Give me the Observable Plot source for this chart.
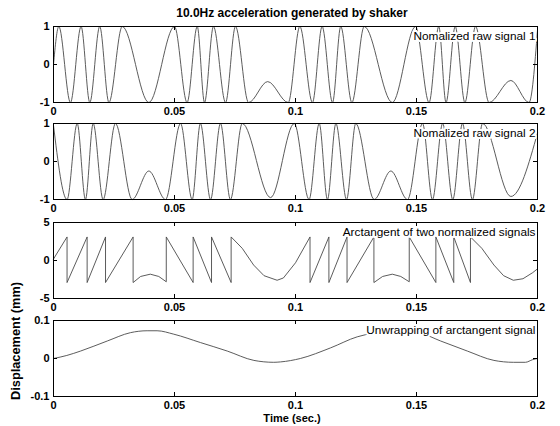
<!DOCTYPE html>
<html>
<head>
<meta charset="utf-8">
<script src="https://cdn.jsdelivr.net/npm/d3@7"></script>
<script src="https://cdn.jsdelivr.net/npm/@observablehq/plot@0.6"></script>
<style>
  html, body { margin: 0; padding: 0; background: #fff; }
  #chart { position: relative; width: 560px; height: 426px; background: #fff; font-family: "Liberation Sans", Arial, sans-serif; color: #000; }
  #chart svg { position: absolute; left: 0; }
  .lbl { position: absolute; font-weight: bold; white-space: nowrap; text-align: center; }
</style>
</head>
<body>
<div id="chart"></div>
<script>
// ---- texts ----
const titleText = "10.0Hz acceleration generated by shaker";
const xLabelText = "Time (sec.)";
const yLabelText = "Displacement (mm)";
const panelLabels = ["Nomalized raw signal 1", "Nomalized raw signal 2", "Arctangent of two normalized signals", "Unwrapping of arctangent signal"];

// ---- ticks ----
const xTicks = [0, 0.05, 0.1, 0.15, 0.2];
const xTickLabels = ["0", "0.05", "0.1", "0.15", "0.2"];
const yTicksRaw = [-1, 0, 1];
const yTicksArc = [-5, 0, 5];
const yTicksDisp = [-0.1, 0, 0.1];
const yTickLabelsDisp = ["-0.1", "0", "0.1"];

// ---- panel 1: normalized raw signal 1 (turning points) ----
const sig1T = [0, 0.0022, 0.007, 0.0114, 0.015, 0.0191, 0.0229, 0.0284, 0.0394, 0.050, 0.0552, 0.0594, 0.0624, 0.0661, 0.0711, 0.0752, 0.0806, 0.0885, 0.097,
               0.1018, 0.107, 0.111, 0.1153, 0.1187, 0.1233, 0.1284, 0.140, 0.1496, 0.1552, 0.1592, 0.1622, 0.1660, 0.1700, 0.1744, 0.1800, 0.1890, 0.1965, 0.2];
const sig1V = [0, 1, -1, 1, -1, 1, -1, 1, -1, 1, -1, 1, -1, 1, -1, 1, -1, -0.45, -1,
               1, -1, 1, -1, 1, -1, 1, -1, 1, -1, 1, -1, 1, -1, 1, -1, -0.42, -1, 0.9];

// ---- panel 2: normalized raw signal 2 ----
const sig2T = [0, 0.0056, 0.0098, 0.0132, 0.0164, 0.0205, 0.0256, 0.0325, 0.0394, 0.0463, 0.0525, 0.0573, 0.0607, 0.0649, 0.069, 0.0731, 0.078, 0.0897,
               0.0995, 0.1056, 0.1098, 0.1132, 0.1167, 0.1211, 0.1249, 0.1325, 0.1394, 0.1463, 0.1525, 0.1566, 0.1608, 0.165, 0.169, 0.1731, 0.1773, 0.189, 0.2];
const sig2V = [0.95, -1, 1, -1, 1, -1, 1, -1, -0.25, -1, 1, -1, 1, -1, 1, -1, 1, -0.95,
               1, -1, 1, -1, 1, -1, 1, -1, -0.25, -1, 1, -1, 1, -1, 1, -1, 1, -0.92, 0.75];

// ---- panel 3: arctangent of the two signals (wrapped) ----
const arcT = [0, 0.0056, 0.0056, 0.0139, 0.0139, 0.0215, 0.0215, 0.0329, 0.0329, 0.036, 0.040, 0.0435, 0.0466,
              0.0466, 0.0577, 0.0577, 0.0653, 0.0653, 0.0734, 0.0734, 0.078, 0.0827, 0.087, 0.0924, 0.095, 0.1, 0.106,
              0.106, 0.1138, 0.1138, 0.1213, 0.1213, 0.1324, 0.1324, 0.136, 0.140, 0.1435, 0.147,
              0.147, 0.158, 0.158, 0.1654, 0.1654, 0.1723, 0.1723, 0.177, 0.182, 0.186, 0.190, 0.194, 0.198, 0.2];
const arcV = [0.2, 3.1, -2.9, 3.1, -2.9, 3.1, -2.9, 3.1, -2.9, -2.1, -1.8, -2.1, -2.8,
              3.1, -2.9, 3.1, -2.9, 3.1, -2.9, 3.1, 1.6, -0.6, -2.0, -2.6, -2.3, -0.3, 3.1,
              -2.9, 3.1, -2.9, 3.1, -2.9, 3.1, -2.9, -2.1, -1.8, -2.1, -2.8,
              3.1, -2.9, 3.1, -2.9, 3.1, -2.9, 3.1, 1.6, -0.6, -2.0, -2.6, -2.4, -1.6, -1.1];

// ---- panel 4: unwrapped displacement (mm) ----
const dispT = [0, 0.0055, 0.0112, 0.0222, 0.0318, 0.0387, 0.0428, 0.0497, 0.0607, 0.0718, 0.0828, 0.091, 0.0938,
               0.102, 0.1145, 0.1255, 0.1324, 0.139, 0.145, 0.152, 0.16, 0.171, 0.182, 0.190, 0.195, 0.198, 0.2];
const dispV = [0, 0.008, 0.0196, 0.046, 0.068, 0.073, 0.073, 0.064, 0.042, 0.0196, -0.005, -0.01, -0.009,
               0, 0.028, 0.057, 0.067, 0.072, 0.072, 0.066, 0.046, 0.0196, -0.005, -0.01, -0.01, -0.003, 0.0];

const zip = (T, V) => T.map((t, i) => ({t, v: V[i]}));

const font = `"Liberation Sans", Arial, sans-serif`;
const root = document.getElementById("chart");

const panels = [
  {data: zip(sig1T, sig1V), yDomain: [-1, 1], yTicks: yTicksRaw, yFmt: d => String(d), label: panelLabels[0], top: 26, curve: "monotone-x"},
  {data: zip(sig2T, sig2V), yDomain: [-1, 1], yTicks: yTicksRaw, yFmt: d => String(d), label: panelLabels[1], top: 123, curve: "monotone-x"},
  {data: zip(arcT, arcV), yDomain: [-5, 5], yTicks: yTicksArc, yFmt: d => String(d), label: panelLabels[2], top: 222, curve: "linear"},
  {data: zip(dispT, dispV), yDomain: [-0.1, 0.1], yTicks: yTicksDisp, yFmt: d => yTickLabelsDisp[yTicksDisp.indexOf(d)], label: panelLabels[3], top: 320, curve: "monotone-x"}
];

const mt = 6, mb = 22, fh = 76, ml = 53, mr = 23, W = 560;
const fw = W - ml - mr;

for (const p of panels) {
  const chart = Plot.plot({
    width: W, height: mt + fh + mb,
    marginTop: mt, marginBottom: mb, marginLeft: ml, marginRight: mr,
    style: {fontFamily: font, fontSize: "11px", background: "transparent", color: "#000"},
    x: {domain: [0, 0.2], label: null},
    y: {domain: p.yDomain, label: null},
    marks: [
      Plot.line(p.data, {x: "t", y: "v", curve: p.curve, stroke: "#4a4a4a", strokeWidth: 0.9}),
      Plot.tickX(xTicks.slice(1, -1), {x: d => d, insetTop: fh - 4, stroke: "#000"}),
      Plot.tickX(xTicks.slice(1, -1), {x: d => d, insetBottom: fh - 4, stroke: "#000"}),
      Plot.tickY([0], {y: d => d, insetRight: fw - 4, stroke: "#000"}),
      Plot.tickY([0], {y: d => d, insetLeft: fw - 4, stroke: "#000"}),
      Plot.text([p.label], {text: d => d, frameAnchor: "top-right", textAnchor: "end", lineAnchor: "middle",
        dx: -2, dy: 10, fontSize: 11.8, fill: "#000", stroke: "#fff", strokeWidth: 4}),
      Plot.frame({stroke: "#000", strokeWidth: 1}),
      Plot.axisX({ticks: xTicks, tickSize: 0, tickPadding: 5, fontWeight: "bold", fontSize: 11,
        tickFormat: d => xTickLabels[xTicks.indexOf(d)]}),
      Plot.axisY({ticks: p.yTicks, tickSize: 0, tickPadding: 4, fontWeight: "bold", fontSize: 11,
        tickFormat: p.yFmt})
    ]
  });
  chart.style.top = (p.top - mt) + "px";
  root.appendChild(chart);
}

function addLabel(text, left, top, width, size, extra) {
  const d = document.createElement("div");
  d.className = "lbl";
  d.textContent = text;
  d.style.left = left + "px";
  d.style.top = top + "px";
  d.style.width = width + "px";
  d.style.fontSize = size + "px";
  d.style.lineHeight = "14px";
  d.style.height = "14px";
  if (extra) Object.assign(d.style, extra);
  root.appendChild(d);
}
addLabel(titleText, 50, 6, 484, 12);
addLabel(xLabelText, 50, 411, 484, 11);
addLabel(yLabelText, 16 - 90, 341 - 7, 180, 12.8, {transform: "rotate(-90deg)", transformOrigin: "50% 50%"});
</script>
</body>
</html>
